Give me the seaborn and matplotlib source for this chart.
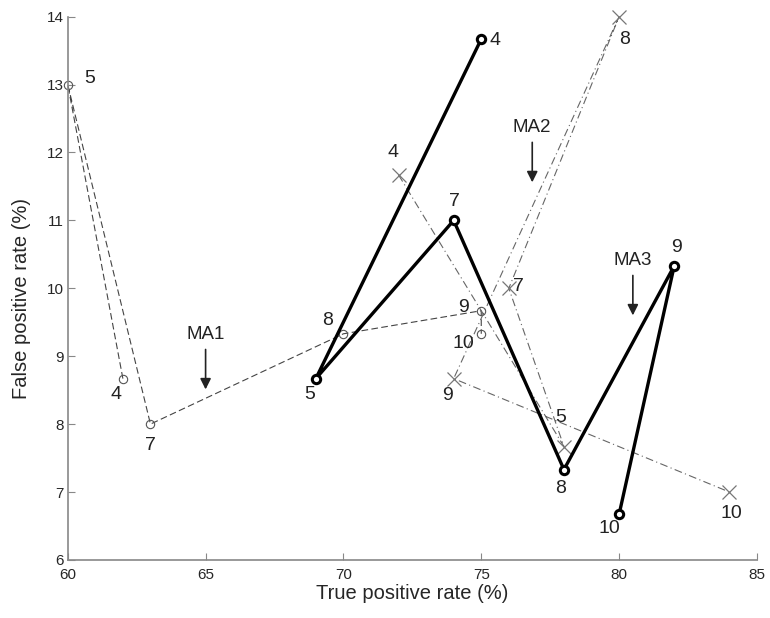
import matplotlib
matplotlib.use("Agg")
import matplotlib.pyplot as plt
import seaborn as sns
import pandas as pd

# number of features for each point (same for every method)
features = [4, 5, 7, 8, 9, 10]

# true positive rate (%) / false positive rate (%) per method
ma1_tpr = [62, 60, 63, 70, 75, 75]
ma1_fpr = [8.67, 13.0, 8.0, 9.33, 9.67, 9.33]

ma2_tpr = [72, 78, 76, 80, 74, 84]
ma2_fpr = [11.67, 7.67, 10.0, 14.0, 8.67, 7.0]

ma3_tpr = [75, 69, 74, 78, 82, 80]
ma3_fpr = [13.67, 8.67, 11.0, 7.33, 10.33, 6.67]

methods = ["MA1", "MA2", "MA3"]
# where each method name + arrow goes (x, y of text)
method_label_x = [65, 76.85, 80.5]
method_label_y = [9.32, 12.37, 10.41]

df = pd.DataFrame({
    "method": ["MA1"] * 6 + ["MA2"] * 6 + ["MA3"] * 6,
    "features": features * 3,
    "tpr": ma1_tpr + ma2_tpr + ma3_tpr,
    "fpr": ma1_fpr + ma2_fpr + ma3_fpr,
})

sns.set_style("white")
plt.rcParams["font.family"] = ["Liberation Sans", "DejaVu Sans"]

fig, ax = plt.subplots(figsize=(7.7, 6.18), dpi=100)
fig.subplots_adjust(left=0.088, right=0.983, bottom=0.094, top=0.973)

styles = {
    "MA1": dict(color="#444444", lw=0.8, ls=(0, (6, 3)), marker="o", ms=6,
                mfc="none", mec="#555555", mew=0.8),
    "MA2": dict(color="#666666", lw=0.8, ls=(0, (7, 3, 1, 3)), marker="x", ms=10,
                mfc="none", mec="#777777", mew=0.9),
    "MA3": dict(color="black", lw=2.4, ls="-", marker="o", ms=6,
                mfc="white", mec="black", mew=2.2),
}

for m in methods:
    sub = df[df["method"] == m]
    st = styles[m]
    sns.lineplot(data=sub, x="tpr", y="fpr", sort=False, ax=ax, estimator=None,
                 color=st["color"], lw=st["lw"], ls=st["ls"], marker=st["marker"],
                 markersize=st["ms"], markerfacecolor=st["mfc"],
                 markeredgecolor=st["mec"], markeredgewidth=st["mew"],
                 clip_on=False)

# label offsets in pixels for the feature counts
offsets = {
    "MA1": [(-7, -16), (22, 6), (0, -21), (-16, 13), (-18, 3), (-18, -10)],
    "MA2": [(-6, 22), (-3, 29), (10, 2), (5, -23), (-6, -17), (2, -21)],
    "MA3": [(14, -1), (-6, -16), (1, 19), (-3, -19), (2, 18), (-10, -14)],
}
for m in methods:
    sub = df[df["method"] == m].reset_index(drop=True)
    for i, row in sub.iterrows():
        dx, dy = offsets[m][i]
        ax.annotate(str(row["features"]), (row["tpr"], row["fpr"]),
                    xytext=(dx, dy), textcoords="offset pixels",
                    ha="center", va="center", fontsize=14, color="#222222")

for m, lx, ly in zip(methods, method_label_x, method_label_y):
    ax.text(lx, ly, m, ha="center", va="center", fontsize=13.5, color="#222222")
    ax.annotate("", xy=(lx, ly - 0.85), xytext=(lx, ly - 0.18),
                arrowprops=dict(arrowstyle="-|>", color="#222222", lw=1.2,
                                mutation_scale=16))

ax.set_xlim(60, 85)
ax.set_ylim(6, 14)
ax.set_xticks([60, 65, 70, 75, 80, 85])
ax.set_yticks(range(6, 15))
ax.set_xlabel("True positive rate (%)", fontsize=14.5, labelpad=1)
ax.set_ylabel("False positive rate (%)", fontsize=14.5)
ax.yaxis.set_label_coords(-0.053, 0.482)
ax.tick_params(direction="in", length=5, width=0.8, color="#888888",
               labelsize=11, left=True, bottom=True)
ax.tick_params(axis="x", pad=6)
ax.tick_params(axis="y", pad=3)
sns.despine(ax=ax)
for s in ["left", "bottom"]:
    ax.spines[s].set_color("#888888")
    ax.spines[s].set_linewidth(1.2)

fig.savefig("out.png", dpi=100)
